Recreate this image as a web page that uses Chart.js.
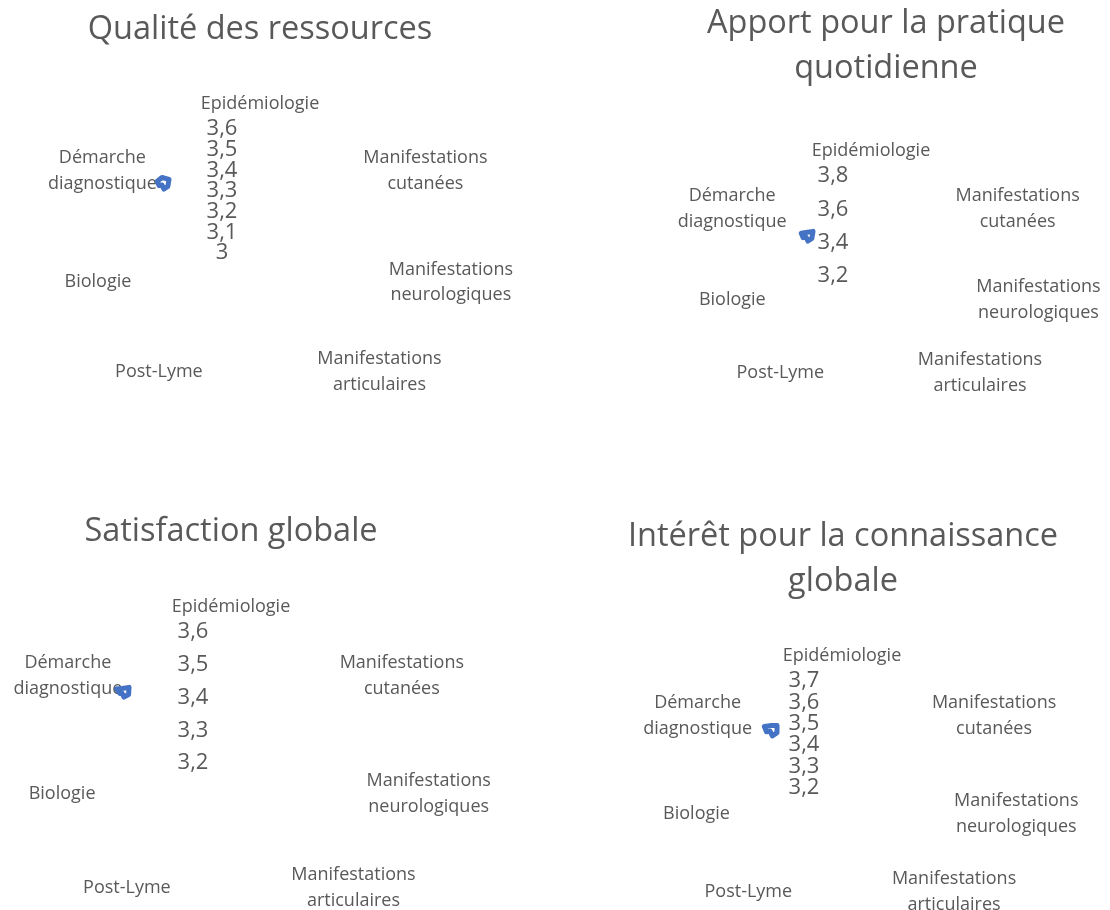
<!DOCTYPE html>
<html>
<head>
<meta charset="utf-8">
<script src="https://cdn.jsdelivr.net/npm/chart.js@4.4.1/dist/chart.umd.min.js"></script>
<style>
  html, body { margin: 0; padding: 0; background: #fff; }
  body { position: relative; width: 1110px; height: 910px; overflow: hidden; }
  canvas { position: absolute; }
</style>
</head>
<body>
<canvas id="c1" width="560" height="455" style="left:-20px;top:0"></canvas>
<canvas id="c2" width="560" height="455" style="left:606px;top:0"></canvas>
<canvas id="c3" width="560" height="520" style="left:-49px;top:455px"></canvas>
<canvas id="c4" width="560" height="520" style="left:563px;top:455px"></canvas>
<script>
// axes of the radar, same in the four charts
var categories = [
    ["Epidémiologie"],
    ["Manifestations", "cutanées"],
    ["Manifestations", "neurologiques"],
    ["Manifestations", "articulaires"],
    ["Post-Lyme"],
    ["Biologie"],
    ["Démarche", "diagnostique"]
];

// mean scores per chart
var qualite = [3.5, 3.6, 3.4, 3.3, 3.0, 3.2, 3.4];
var apport = [3.5, 3.8, 3.6, 3.5, 3.2, 3.4, 3.6];
var satisfaction = [3.4, 3.6, 3.5, 3.4, 3.2, 3.3, 3.5];
var interet = [3.5, 3.7, 3.6, 3.5, 3.2, 3.4, 3.6];

// radial tick labels
var ticksQualite = [3, 3.1, 3.2, 3.3, 3.4, 3.5, 3.6];
var ticksApport = [3.2, 3.4, 3.6, 3.8];
var ticksSatisfaction = [3.2, 3.3, 3.4, 3.5, 3.6];
var ticksInteret = [3.2, 3.3, 3.4, 3.5, 3.6, 3.7];

var panels = [
    {id: "c1", title: ["Qualité des ressources"], titleTop: 8, values: qualite, ticks: ticksQualite, center: [280, 253], radius: 124, blob: [182, 185]},
    {id: "c2", title: ["Apport pour la pratique", "quotidienne"], titleTop: 2, values: apport, ticks: ticksApport, center: [265, 276], radius: 100, blob: [200, 237]},
    {id: "c3", title: ["Satisfaction globale"], titleTop: 55, values: satisfaction, ticks: ticksSatisfaction, center: [280, 308], radius: 131, blob: [171, 238]},
    {id: "c4", title: ["Intérêt pour la connaissance", "globale"], titleTop: 60, values: interet, ticks: ticksInteret, center: [279, 333], radius: 107, blob: [207, 276]}
];

var grey = "#595959";
var labelGap = 8;
Chart.defaults.font.family = "'Open Sans', sans-serif";
Chart.defaults.color = grey;

function placeAt(x, y, r) {
    return function(scale) {
        scale.xCenter = x;
        scale.yCenter = y;
        scale.drawingArea = r;
    };
}

// centre the side labels on their spoke and their lines on each other, like the office chart does
function centreLabels(scale) {
    var items = scale._pointLabelItems || [];
    items.forEach(function(item, i) {
        item.x = (item.left + item.right) / 2;
        item.textAlign = "center";
        if (i === 0) return;
        var h = item.bottom - item.top;
        var p = scale.getPointPosition(i, scale.drawingArea + labelGap);
        item.y = p.y - h / 2;
        item.top = item.y;
        item.bottom = item.y + h;
    });
}

panels.forEach(function(p) {
    var min = p.ticks[0];
    var max = p.ticks[p.ticks.length - 1];
    new Chart(document.getElementById(p.id), {
        type: "radar",
        data: {
            labels: categories,
            datasets: [{
                data: p.values,
                rAxisID: "rd",
                borderColor: "#4472C4",
                borderWidth: 5,
                borderJoinStyle: "round",
                backgroundColor: "rgba(0,0,0,0)",
                fill: false,
                pointRadius: 0
            }]
        },
        options: {
            responsive: false,
            animation: false,
            layout: {padding: 0},
            plugins: {
                legend: {display: false},
                tooltip: {enabled: false},
                title: {
                    display: true,
                    text: p.title,
                    color: grey,
                    font: {size: 32.5, weight: "normal", lineHeight: 1.36},
                    padding: {top: p.titleTop, bottom: 0}
                }
            },
            scales: {
                r: {
                    axis: "r",
                    min: min,
                    max: max,
                    grid: {display: false},
                    angleLines: {display: false},
                    ticks: {display: false},
                    pointLabels: {
                        font: {size: 18, lineHeight: 1.44},
                        color: grey,
                        padding: function(ctx) { return ctx.index === 0 ? 12 : labelGap; }
                    },
                    afterSetDimensions: placeAt(p.center[0], p.center[1], p.radius),
                    afterFit: centreLabels
                },
                rt: {
                    type: "radialLinear",
                    axis: "r",
                    min: min,
                    max: max,
                    grid: {display: false},
                    angleLines: {display: false},
                    pointLabels: {display: false},
                    ticks: {
                        showLabelBackdrop: false,
                        color: grey,
                        font: {size: 22},
                        callback: function(v) { return String(v).replace(".", ","); }
                    },
                    afterBuildTicks: function(scale) {
                        // first tick is never labelled by the radial scale, so repeat it
                        scale.ticks = [{value: min}].concat(p.ticks.map(function(v) { return {value: v}; }));
                    },
                    afterSetDimensions: placeAt(p.center[0] - 38, p.center[1], p.radius)
                },
                rd: {
                    type: "radialLinear",
                    axis: "r",
                    display: false,
                    min: min,
                    max: max,
                    afterSetDimensions: placeAt(p.blob[0], p.blob[1], 9)
                }
            }
        }
    });
});
</script>
</body>
</html>
